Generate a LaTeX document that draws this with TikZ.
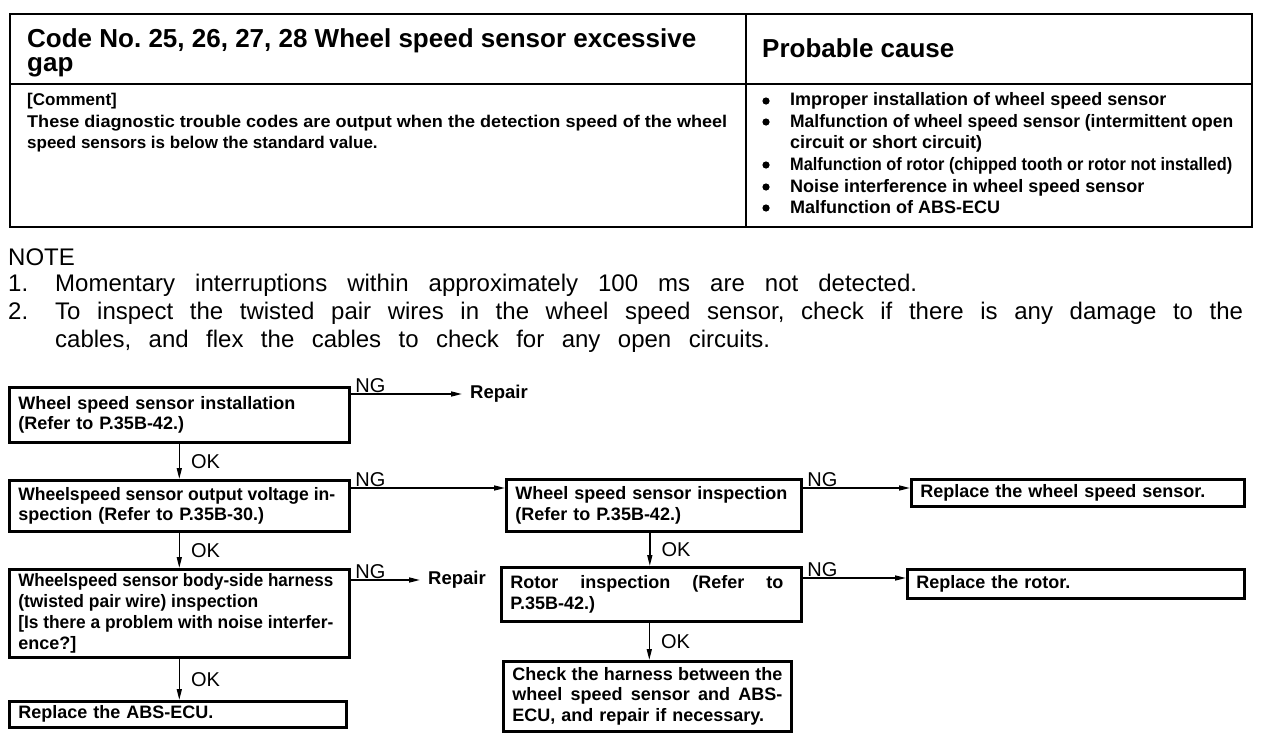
\documentclass[tikz,border=0pt]{standalone}
\usepackage{fontspec}
\usepackage{graphicx}
\setmainfont{Liberation Sans}
\usetikzlibrary{arrows.meta}
\frenchspacing
\newsavebox\flbox
\newcommand\fl[2]{{\spaceskip=0pt\xspaceskip=0pt\sbox\flbox{#2}%
  \ifdim\wd\flbox>#1\relax\resizebox{#1}{\height}{\usebox\flbox}\else\makebox[#1][s]{#2}\fi}}
\newcommand\fw[2]{\resizebox{#1}{\height}{#2}}
\begin{document}
\begin{tikzpicture}[x=1pt,y=-1pt,
  every node/.style={inner sep=0pt},
  tbl/.style={line width=2.4pt},
  hdr/.style={anchor=base west, font=\bfseries\fontsize{26}{24}\selectfont},
  cell/.style={anchor=base west, font=\bfseries\fontsize{17}{20}\selectfont},
  cause/.style={anchor=base west, font=\bfseries\fontsize{18}{20}\selectfont},
  note/.style={anchor=base west, font=\fontsize{24}{28}\selectfont},
  box/.style={draw, line width=2.6pt, anchor=north west, align=left, inner xsep=9pt, inner ysep=0pt,
    font=\bfseries\fontsize{18}{20.7}\selectfont},
  arr/.style={line width=1.5pt, -{Triangle[length=11pt,width=5pt]}},
  ng/.style={pos=0, anchor=south west, xshift=4pt, yshift=0.5pt, font=\fontsize{20}{20}\selectfont},
  ok/.style={anchor=west, xshift=11pt, font=\fontsize{20}{20}\selectfont},
  repair/.style={anchor=west, inner xsep=8pt, font=\bfseries\fontsize{18.5}{18}\selectfont}
]
\useasboundingbox (0,0) rectangle (1280,752);

% ---------- table ----------
\draw[tbl] (10,14) rectangle (1252,227);
\draw[tbl] (746,14) -- (746,227);
\draw[tbl] (10,84) -- (1252,84);
\node[hdr] (h1) at (27,48) {Code No. 25, 26, 27, 28 Wheel speed sensor excessive};
\node[hdr] (h2) at (27,72) {gap};
\node[hdr] (h3) at (762,58) {Probable cause};
\node[cell] (c1) at (27,106) {[Comment]};
\node[cell] (c2) at (27,128) {\fw{700pt}{These diagnostic trouble codes are output when the detection speed of the wheel}};
\node[cell] (c3) at (27,148) {speed sensors is below the standard value.};
\foreach \y in {101,122,165,187,208} \fill (766,\y) circle (3.6);
\node[cause] (p1) at (790,106) {Improper installation of wheel speed sensor};
\node[cause] (p2) at (790,128) {\fl{443pt}{Malfunction of wheel speed sensor (intermittent open}};
\node[cause] (p3) at (790,148) {circuit or short circuit)};
\node[cause] (p4) at (790,170) {\fl{442pt}{Malfunction of rotor (chipped tooth or rotor not installed)}};
\node[cause] (p5) at (790,192) {Noise interference in wheel speed sensor};
\node[cause] (p6) at (790,213) {Malfunction of ABS-ECU};

% ---------- note ----------
\node[note] (nt) at (8,265) {NOTE};
\node[note] (n1) at (8,291) {1.};
\node[note] (n1t) at (55,291) {\fl{862pt}{Momentary interruptions within approximately 100 ms are not detected.}};
\node[note] (n2) at (8,319) {2.};
\node[note] (n2t) at (55,319) {\fl{1188pt}{To inspect the twisted pair wires in the wheel speed sensor, check if there is any damage to the}};
\node[note] (n3t) at (55,347) {\fl{715pt}{cables, and flex the cables to check for any open circuits.}};

% ---------- flowchart ----------
\node[box, text width=322pt, minimum height=55pt] (b1) at (8,386) {Wheel speed sensor installation\\(Refer to P.35B-42.)};
\node[box, text width=322pt, minimum height=51pt] (b2) at (8,479) {\fl{317pt}{Wheelspeed sensor output voltage in-}\\spection (Refer to P.35B-30.)};
\node[box, text width=322pt, minimum height=88pt] (b3) at (8,568) {\fl{315pt}{Wheelspeed sensor body-side harness}\\\fl{240pt}{(twisted pair wire) inspection}\\\fl{315pt}{[Is there a problem with noise interfer-}\\ence?]};
\node[box, text width=319pt, minimum height=26pt] (b7) at (8,700) {Replace the ABS-ECU.};
\node[box, text width=277pt, minimum height=52pt] (b4) at (505,478) {Wheel speed sensor inspection\\(Refer to P.35B-42.)};
\node[box, text width=315pt, minimum height=27pt] (b5) at (910,478) {Replace the wheel speed sensor.};
\node[box, text width=282pt, minimum height=54pt] (b6) at (500,566) {\fl{273pt}{Rotor inspection (Refer to}\\P.35B-42.)};
\node[box, text width=319pt, minimum height=29pt] (b8) at (906,568) {Replace the rotor.};
\node[box, text width=270pt, minimum height=70pt] (b9) at (502,660) {\fl{270pt}{Check the harness between the}\\\fl{270pt}{wheel speed sensor and ABS-}\\ECU, and repair if necessary.};

\node[repair] (r1) at (462,394) {Repair};
\node[repair] (r2) at (420,580) {Repair};

% NG connectors
\draw[arr] (b1.east |- r1.west) -- node[ng] (ng1) {NG} (r1.west);
\draw[arr] ([yshift=-9pt]b2.north east) -- node[ng] (ng2) {NG} ([yshift=-9pt]b2.north east -| b4.west);
\draw[arr] (b3.east |- r2.west) -- node[ng] (ng3) {NG} (r2.west);
\draw[arr] ([yshift=-10pt]b4.north east) -- node[ng] (ng4) {NG} ([yshift=-10pt]b4.north east -| b5.west);
\draw[arr] ([yshift=-12pt]b6.north east) -- node[ng] (ng5) {NG} ([yshift=-12pt]b6.north east -| b8.west);

% OK connectors
\draw[arr] (b1.south) -- node[ok] (ok1) {OK} (b2.north);
\draw[arr] (b2.south) -- node[ok] (ok2) {OK} (b3.north);
\draw[arr] (b3.south) -- node[ok] (ok3) {OK} (b3.south |- b7.north);
\draw[arr] ([xshift=-4pt]b4.south) -- node[ok] (ok4) {OK} ([xshift=-4pt]b4.south |- b6.north);
\draw[arr] ([xshift=-2pt]b6.south) -- node[ok] (ok5) {OK} ([xshift=-2pt]b6.south |- b9.north);
\end{tikzpicture}
\end{document}
